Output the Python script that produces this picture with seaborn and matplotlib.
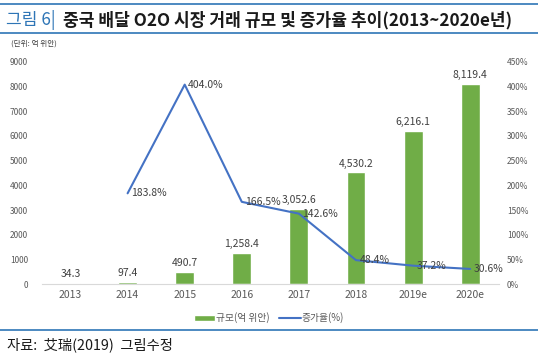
import numpy as np
import pandas as pd
import matplotlib.pyplot as plt
import seaborn as sns
from matplotlib.lines import Line2D
from matplotlib.patches import Patch

# data
years = ['2013', '2014', '2015', '2016', '2017', '2018', '2019e', '2020e']
market_size = [34.3, 97.4, 490.7, 1258.4, 3052.6, 4530.2, 6216.1, 8119.4]
growth_years = ['2014', '2015', '2016', '2017', '2018', '2019e', '2020e']
growth_rate = [183.8, 404.0, 166.5, 142.6, 48.4, 37.2, 30.6]

sns.set_style('white')
plt.rcParams['font.family'] = ['Noto Sans CJK KR', 'DejaVu Sans']

BAR = '#70ad47'
LINE = '#4472c4'
TXT = '#595959'

df = pd.DataFrame({'year': years, 'size': market_size, 'pos': np.arange(len(years))})
gdf = pd.DataFrame({'year': growth_years, 'rate': growth_rate})
gdf['pos'] = gdf['year'].map(dict(zip(df['year'], df['pos'])))

fig = plt.figure(figsize=(5.38, 3.6), dpi=100)
ax = fig.add_axes([0.078, 0.211, 0.849, 0.617])

sns.barplot(data=df, x='year', y='size', color=BAR, width=0.33, saturation=1, ax=ax)
ax.set_ylim(0, 9000)
ax.set_yticks(range(0, 9001, 1000))
ax.set_xlim(-0.5, len(years) - 0.5)
ax.set_xlabel('')
ax.set_ylabel('')
ax.tick_params(axis='y', labelsize=6, colors=TXT, length=0, pad=10)
ax.tick_params(axis='x', labelsize=7.5, colors=TXT, length=0, pad=4)
for s in ['top', 'right', 'left']:
    ax.spines[s].set_visible(False)
ax.spines['bottom'].set_color('#d9d9d9')
ax.spines['bottom'].set_linewidth(0.8)

for p, v in zip(df['pos'], df['size']):
    ax.text(p, v + 150, f'{v:,.1f}', ha='center', va='bottom', fontsize=7.5, color='#404040')

ax2 = ax.twinx()
sns.lineplot(data=gdf, x='pos', y='rate', color=LINE, linewidth=1.5, ax=ax2)
ax2.set_ylim(0, 450)
ax2.set_yticks(range(0, 451, 50))
ax2.set_yticklabels([f'{t}%' for t in range(0, 451, 50)])
ax2.set_ylabel('')
ax2.set_xlabel('')
ax2.tick_params(axis='y', labelsize=6, colors=TXT, length=0, pad=6)
for s in ['top', 'right', 'left', 'bottom']:
    ax2.spines[s].set_visible(False)
ax2.set_xlim(-0.5, len(years) - 0.5)

for p, v in zip(gdf['pos'], gdf['rate']):
    ax2.text(p + 0.06, v, f'{v:.1f}%', ha='left', va='center', fontsize=7.5, color='#404040')

# legend
handles = [Patch(facecolor=BAR, label='규모(억 위안)'),
           Line2D([0], [0], color=LINE, lw=1.5, label='증가율(%)')]
fig.legend(handles=handles, loc='center', bbox_to_anchor=(0.50, 0.117), ncol=2,
           frameon=False, fontsize=7, labelcolor=TXT, handlelength=2.2,
           handleheight=0.5, columnspacing=1.0, handletextpad=0.1)

# title block
fig.add_artist(Line2D([0.0, 1.0], [0.989, 0.989], color='#2e75b6', lw=1.2))
fig.add_artist(Line2D([0.0, 1.0], [0.908, 0.908], color='#2e75b6', lw=1.2))
fig.add_artist(Line2D([0.0, 1.0], [0.083, 0.083], color='#2e75b6', lw=1.2))
t1 = fig.text(0.012, 0.945, '그림 6|', fontsize=12.3, color='#2e75b6', va='center')
fig.canvas.draw()
bb = t1.get_window_extent()
fig.text(bb.x1 / fig.bbox.width + 0.014, 0.945,
         '중국 배달 O2O 시장 거래 규모 및 증가율 추이(2013~2020e년)',
         fontsize=12.3, color='#1a1a1a', va='center', fontweight='bold')
fig.text(0.02, 0.878, '(단위: 억 위안)', fontsize=5.5, color='#404040', va='center')
fig.text(0.013, 0.042, '자료:  艾瑞(2019)  그림수정', fontsize=10.3, color='#1a1a1a', va='center')

fig.savefig('out.png', dpi=100)
